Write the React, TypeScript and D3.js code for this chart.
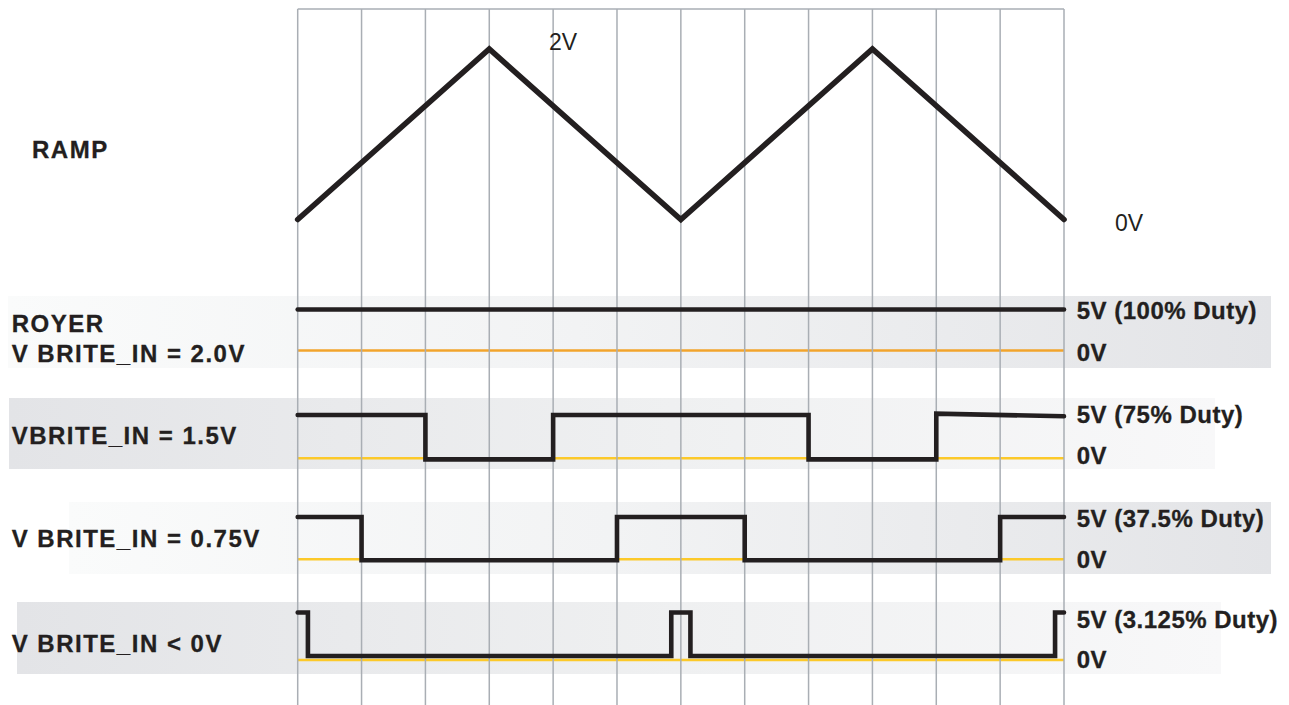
import React from "react";
import * as d3 from "d3";

// ---- data ----
const gridTimes = d3.range(0, 13); // 12 divisions
const rampTimes = [0, 3, 6, 9, 12];
const rampVolts = [0, 2, 0, 2, 0];

const rowLabels = [["ROYER", "V BRITE_IN = 2.0V"], ["VBRITE_IN = 1.5V"], ["V BRITE_IN = 0.75V"], ["V BRITE_IN < 0V"]];
const highLabels = ["5V (100% Duty)", "5V (75% Duty)", "5V (37.5% Duty)", "5V (3.125% Duty)"];
const lowLabel = "0V";

// waveforms: [time (grid divisions), volts]
const royerWave: [number, number][] = [[0, 5], [12, 5]];
const wave15: [number, number][] = [[0, 5], [2, 5], [2, -0.12], [4, -0.12], [4, 5], [8, 5], [8, -0.12], [10, -0.12], [10, 5.15], [12, 4.85]];
const wave075: [number, number][] = [[0, 5], [1, 5], [1, -0.12], [5, -0.12], [5, 5], [7, 5], [7, -0.12], [11, -0.12], [11, 5], [12, 5]];
const wave0: [number, number][] = [[0, 5], [0.16, 5], [0.16, 0.42], [5.85, 0.42], [5.85, 5], [6.15, 5], [6.15, 0.42], [11.86, 0.42], [11.86, 5], [12, 5]];
const waves = [royerWave, wave15, wave075, wave0];

// ---- layout ----
const W = 1289, H = 705;
const INK = "#231f20";
const GRID = "#a9aeb4";
const rows = [
  { y5: 309.5, y0: 350.5, band: [8, 296, 1271, 368], dir: 1, zero: "#f2a42c", labelY: [331.7, 361.7], hiY: 319.3, loY: 361 },
  { y5: 415, y0: 458.3, band: [9, 398, 1215, 469], dir: -1, zero: "#fcc92a", labelY: [444], hiY: 423.3, loY: 464.3 },
  { y5: 517, y0: 559.3, band: [69, 502, 1271, 574], dir: 1, zero: "#fcc92a", labelY: [546.7], hiY: 526.7, loY: 567.7 },
  { y5: 612.5, y0: 660, band: [17, 602, 1221, 674], dir: -1, zero: "#fcc92a", labelY: [652.3], hiY: 628.3, loY: 667.7 },
];

export default function App() {
  const x = d3.scaleLinear().domain([0, 12]).range([297.7, 1064]);
  const yRamp = d3.scaleLinear().domain([0, 2]).range([219.5, 49]);
  const rampLine = d3.line<number>().x((_, i) => x(rampTimes[i])).y((v) => yRamp(v));

  return (
    <svg width={W} height={H} style={{ position: "absolute", left: 0, top: 0, display: "block" }}
      fontFamily="'Liberation Sans', Arial, Helvetica, sans-serif">
      <defs>
        <linearGradient id="gLight2Dark" x1="0" x2="1" y1="0" y2="0">
          <stop offset="0" stopColor="#fafbfb" />
          <stop offset="0.45" stopColor="#f2f3f4" />
          <stop offset="1" stopColor="#e3e4e7" />
        </linearGradient>
        <linearGradient id="gDark2Light" x1="0" x2="1" y1="0" y2="0">
          <stop offset="0" stopColor="#e3e4e7" />
          <stop offset="0.55" stopColor="#eff0f1" />
          <stop offset="1" stopColor="#f8f8f9" />
        </linearGradient>
      </defs>
      <rect width={W} height={H} fill="#ffffff" />

      {/* bands */}
      {rows.map((r, i) => (
        <rect key={"b" + i} x={r.band[0]} y={r.band[1]} width={r.band[2] - r.band[0]} height={r.band[3] - r.band[1]}
          fill={r.dir > 0 ? "url(#gLight2Dark)" : "url(#gDark2Light)"} />
      ))}

      {/* zero reference lines */}
      {rows.map((r, i) => (
        <line key={"z" + i} x1={x(0)} x2={x(12)} y1={r.y0} y2={r.y0} stroke={r.zero} strokeWidth={2.5} />
      ))}

      {/* grid */}
      <line x1={x(0)} x2={x(12)} y1={9} y2={9} stroke={GRID} strokeWidth={1.5} />
      {gridTimes.map((t) => (
        <line key={"g" + t} x1={x(t)} x2={x(t)} y1={9} y2={H} stroke={GRID} strokeWidth={1.5} />
      ))}

      {/* ramp */}
      <path d={rampLine(rampVolts) || ""} fill="none" stroke={INK} strokeWidth={5.6} strokeLinecap="round" strokeLinejoin="miter" />
      <text x={549} y={50} fontSize={23} fill={INK}>2V</text>
      <text x={1115} y={231} fontSize={23} fill={INK}>0V</text>
      <text x={32} y={157.7} fontSize={24} fontWeight="bold" fill={INK} letterSpacing={1.5} stroke={INK} strokeWidth={0.3}>RAMP</text>

      {/* waveforms */}
      {waves.map((w, i) => {
        const r = rows[i];
        const y = d3.scaleLinear().domain([0, 5]).range([r.y0, r.y5]);
        const line = d3.line<[number, number]>().x((d) => x(d[0])).y((d) => y(d[1]));
        return (
          <path key={"w" + i} d={line(w) || ""} fill="none" stroke={INK} strokeWidth={4.6} strokeLinecap="round" strokeLinejoin="miter" />
        );
      })}

      {/* labels */}
      {rows.map((r, i) => (
        <g key={"l" + i} fontWeight="bold" fill={INK} fontSize={24} stroke={INK} strokeWidth={0.3}>
          {rowLabels[i].map((s, j) => (
            <text key={j} x={11.7} y={r.labelY[j]} letterSpacing={1.5}>{s}</text>
          ))}
          <text x={1076.7} y={r.hiY} letterSpacing={0.5}>{highLabels[i]}</text>
          <text x={1076.7} y={r.loY} letterSpacing={0.5}>{lowLabel}</text>
        </g>
      ))}
    </svg>
  );
}
